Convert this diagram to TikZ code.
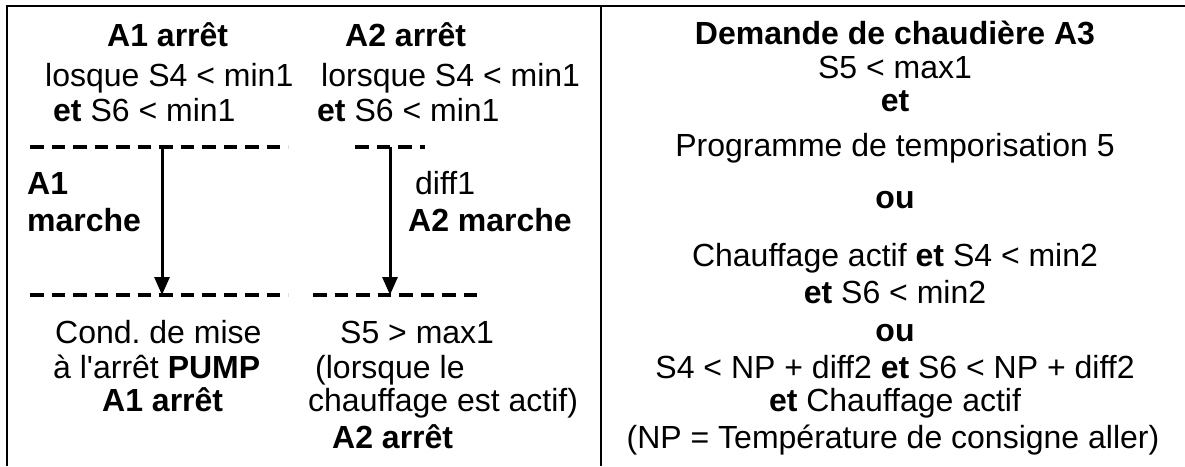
\documentclass[tikz,border=0pt]{standalone}
\usepackage{fontspec}
\setmainfont{Liberation Sans}
\usetikzlibrary{arrows.meta}
\frenchspacing

\tikzset{
  txt/.style = {anchor=base west, inner sep=0pt, font=\fontsize{32}{36}\selectfont},
  mid/.style = {anchor=base, inner sep=0pt, font=\fontsize{32}{36}\selectfont},
  frame/.style = {line width=2.5pt},
  cut/.style = {line width=3.5pt, dash pattern=on 13.5pt off 8pt},
  flow/.style = {line width=3pt, -{Triangle[length=18pt, width=15pt]}},
}

\begin{document}
\begin{tikzpicture} [x=1pt, y=-1pt]

\useasboundingbox (0,0) rectangle (1185,466);

% frame
\coordinate (tl) at (7,6);
\coordinate (tr) at (1185,6);
\coordinate (bl) at (7,466);
\coordinate (st) at (601,6);
\coordinate (sb) at (601,466);
\draw [frame] (bl) -- (tl) -- (tr);
\draw [frame] (st) -- (sb);

% pump A1
\node (a1off)  [txt] at (107,46)  {\textbf{A1 arrêt}};
\node (a1s4)   [txt] at (45,86)   {losque S4 < min1};
\node (a1s6)   [txt] at (53,121)  {\textbf{et} S6 < min1};
\node (a1on)   [txt] at (27,194)  {\textbf{A1}};
\node (a1on2)  [txt] at (27,231)  {\textbf{marche}};
\node (a1cnd)  [txt] at (55,343)  {Cond. de mise};
\node (a1cnd2) [txt] at (53,378)  {à l\textquotesingle arrêt \textbf{PUMP}};
\node (a1stop) [txt] at (102,411) {\textbf{A1 arrêt}};

% pump A2
\node (a2off)  [txt] at (345,46)  {\textbf{A2 arrêt}};
\node (a2s4)   [txt] at (321,86)  {lorsque S4 < min1};
\node (a2s6)   [txt] at (317,121) {\textbf{et} S6 < min1};
\node (a2dif)  [txt] at (415,194) {diff1};
\node (a2on)   [txt] at (408,231) {\textbf{A2 marche}};
\node (a2s5)   [txt] at (340,343) {S5 > max1};
\node (a2cnd)  [txt] at (315,378) {(lorsque le};
\node (a2cnd2) [txt] at (308,411) {chauffage est actif)};
\node (a2stop) [txt] at (332,448) {\textbf{A2 arrêt}};

% dashed levels
\coordinate (up1a) at (30,147);
\coordinate (up1b) at (288,147);
\coordinate (up2a) at (355,147);
\coordinate (up2b) at (425,147);
\coordinate (lo1a) at (30,295);
\coordinate (lo1b) at (288,295);
\coordinate (lo2a) at (313,295);
\coordinate (lo2b) at (484,295);
\draw [cut] (up1a) -- (up1b);
\draw [cut] (up2a) -- (up2b);
\draw [cut] (lo1a) -- (lo1b);
\draw [cut] (lo2a) -- (lo2b);

\coordinate (p1top) at (162,147);
\coordinate (p1bot) at (162,295);
\coordinate (p2top) at (390,147);
\coordinate (p2bot) at (390,295);
\draw [flow] (p1top) -- (p1bot);
\draw [flow] (p2top) -- (p2bot);

% boiler A3
\node (a3)    [mid] at (895,44)  {\textbf{Demande de chaudière A3}};
\node (a3s5)  [mid] at (895,78)  {S5 < max1};
\node (a3et)  [mid] at (895,111) {\textbf{et}};
\node (a3prg) [mid] at (895,156) {Programme de temporisation 5};
\node (a3ou)  [mid] at (895,208) {\textbf{ou}};
\node (a3ch)  [mid] at (895,266) {Chauffage actif \textbf{et} S4 < min2};
\node (a3s6)  [mid] at (895,303) {\textbf{et} S6 < min2};
\node (a3ou2) [mid] at (895,341) {\textbf{ou}};
\node (a3np)  [mid] at (895,378) {S4 < NP + diff2 \textbf{et} S6 < NP + diff2};
\node (a3ch2) [mid] at (895,411) {\textbf{et} Chauffage actif};
\node (a3nb)  [mid] at (893,448) {(NP = Température de consigne aller)};

\end{tikzpicture}
\end{document}
